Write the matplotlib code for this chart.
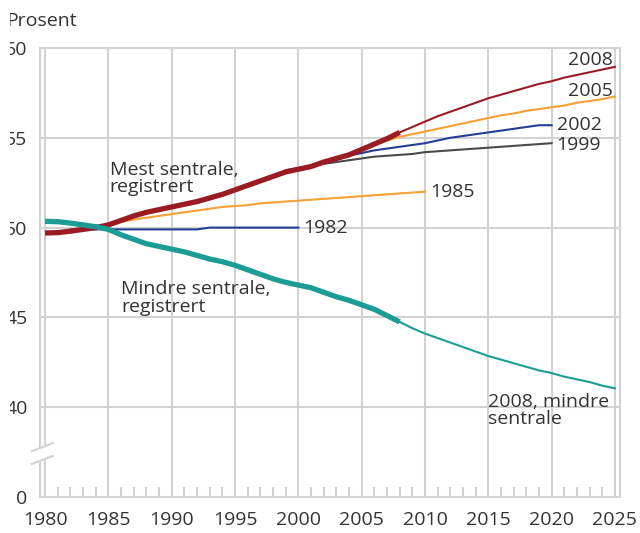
import numpy as np
import matplotlib.pyplot as plt
from matplotlib.patches import Polygon, Rectangle

plt.rcParams['font.family'] = ['Open Sans', 'DejaVu Sans']

# Registered shares (per cent)
years_reg = list(range(1980, 2009))
mest_reg = [49.7, 49.72, 49.8, 49.9, 50.0, 50.15, 50.4, 50.65, 50.85, 51.0,
            51.15, 51.3, 51.45, 51.65, 51.85, 52.1, 52.35, 52.6, 52.85, 53.1,
            53.25, 53.4, 53.65, 53.85, 54.05, 54.35, 54.65, 54.95, 55.3]
mindre_reg = [50.35, 50.33, 50.25, 50.15, 50.05, 49.9, 49.6, 49.35, 49.1, 48.95,
              48.8, 48.65, 48.45, 48.25, 48.1, 47.9, 47.65, 47.4, 47.15, 46.95,
              46.8, 46.65, 46.4, 46.15, 45.95, 45.7, 45.45, 45.1, 44.75]

# Projections (mest sentrale)
years_p1982 = list(range(1982, 2001))
p1982 = [49.9] * 11 + [50.0] * 8
years_p1985 = list(range(1985, 2011))
p1985 = [50.15, 50.3, 50.45, 50.55, 50.65, 50.75, 50.85, 50.95, 51.05, 51.15,
         51.2, 51.25, 51.35, 51.4, 51.45, 51.5, 51.55, 51.6, 51.65, 51.7,
         51.75, 51.8, 51.85, 51.9, 51.95, 52.0]
years_p1999 = list(range(1999, 2021))
p1999 = [53.2, 53.3, 53.45, 53.55, 53.65, 53.75, 53.85, 53.95, 54.0, 54.05,
         54.1, 54.2, 54.25, 54.3, 54.35, 54.4, 54.45, 54.5, 54.55, 54.6,
         54.65, 54.7]
years_p2002 = list(range(2002, 2021))
p2002 = [53.6, 53.8, 54.0, 54.15, 54.3, 54.4, 54.5, 54.6, 54.7, 54.85,
         55.0, 55.1, 55.2, 55.3, 55.4, 55.5, 55.6, 55.7, 55.7]
years_p2005 = list(range(2005, 2026))
p2005 = [54.3, 54.6, 54.85, 55.05, 55.2, 55.35, 55.5, 55.65, 55.8, 55.95,
         56.1, 56.25, 56.35, 56.5, 56.6, 56.7, 56.8, 56.95, 57.05, 57.15, 57.3]
years_p2008 = list(range(2008, 2026))
p2008 = [55.3, 55.6, 55.9, 56.2, 56.45, 56.7, 56.95, 57.2, 57.4, 57.6,
         57.8, 58.0, 58.15, 58.35, 58.5, 58.65, 58.8, 58.95]
p2008_mindre = [44.75, 44.4, 44.1, 43.85, 43.6, 43.35, 43.1, 42.85, 42.65, 42.45,
                42.25, 42.05, 41.9, 41.7, 41.55, 41.4, 41.2, 41.05]

# axis: the "0" tick sits where 35 would be (broken axis)
ytick_pos = [35, 40, 45, 50, 55, 60]
ytick_lab = ["0", "40", "45", "50", "55", "60"]
xticks = list(range(1980, 2026, 5))

RED = "#9b1b22"
ORANGE = "#f7a035"
BLUE = "#233f95"
GREY = "#4a4a4a"
TEAL = "#1b9c96"
GRID = "#d2d2d2"
TXT = "#333333"

fig = plt.figure(figsize=(6.4, 5.33), dpi=100)
ax = fig.add_axes([40 / 640, 36 / 533, 580 / 640, 449 / 533])
ax.set_xlim(1979.6, 2025.4)
ax.set_ylim(35, 60)

# grid
for x in xticks:
    ax.axvline(x, color=GRID, lw=1.5, zorder=1)
for y in [40, 45, 50, 55]:
    ax.axhline(y, color=GRID, lw=1.5, zorder=1)
for s in ax.spines.values():
    s.set_color(GRID)
    s.set_linewidth(1.5)

ax.set_xticks(xticks)
ax.set_xticks([y for y in range(1980, 2026) if y % 5], minor=True)
ax.tick_params(axis='x', which='major', length=0, pad=10, labelsize=14, labelcolor=TXT)
ax.tick_params(axis='x', which='minor', direction='in', length=7, width=1.5, color=GRID)
ax.set_yticks(ytick_pos, ytick_lab)
ax.tick_params(axis='y', length=0, pad=9, labelsize=14, labelcolor=TXT)

# projections
ax.plot(years_p1982, p1982, color=BLUE, lw=1.5, zorder=3)
ax.plot(years_p1985, p1985, color=ORANGE, lw=1.5, zorder=3)
ax.plot(years_p1999, p1999, color=GREY, lw=1.5, zorder=3)
ax.plot(years_p2002, p2002, color=BLUE, lw=1.5, zorder=3)
ax.plot(years_p2005, p2005, color=ORANGE, lw=1.5, zorder=3)
ax.plot(years_p2008, p2008, color=RED, lw=1.5, zorder=3)
ax.plot(years_p2008, p2008_mindre, color=TEAL, lw=1.5, zorder=3)

# registered
ax.plot(years_reg, mest_reg, color=RED, lw=3.8, zorder=4, solid_capstyle='butt')
ax.plot(years_reg, mindre_reg, color=TEAL, lw=3.8, zorder=4, solid_capstyle='butt')

# labels
kw = dict(fontsize=14, color=TXT, zorder=5)
ax.text(2024.8, p2008[-1] + 0.1, "2008", ha='right', va='baseline', **kw)
ax.text(2024.8, p2005[-1] + 0.05, "2005", ha='right', va='baseline', **kw)
ax.text(2020.4, p2002[-1], "2002", ha='left', va='center', **kw)
ax.text(2020.4, p1999[-1] - 0.1, "1999", ha='left', va='center', **kw)
ax.text(2010.4, p1985[-1], "1985", ha='left', va='center', **kw)
ax.text(2000.4, p1982[-1], "1982", ha='left', va='center', **kw)
ax.text(1985.1, 51.75, "Mest sentrale,\nregistrert", ha='left', va='bottom',
        linespacing=0.95, **kw)
ax.text(1986.0, 45.1, "Mindre sentrale,\nregistrert", ha='left', va='bottom',
        linespacing=0.95, **kw)
ax.text(2015.0, 38.85, "2008, mindre\nsentrale", ha='left', va='bottom',
        linespacing=0.95, **kw)

# axis break marks
brk = Polygon([(-0.014, 0.0735), (0.022, 0.0913), (0.022, 0.120), (-0.014, 0.102)],
              closed=True, facecolor='white', edgecolor='none',
              transform=ax.transAxes, clip_on=False, zorder=6)
ax.add_patch(brk)
ax.plot([-0.014, 0.022], [0.0735, 0.0913], color=GRID, lw=1.5,
        transform=ax.transAxes, clip_on=False, zorder=7)
ax.plot([-0.014, 0.022], [0.102, 0.120], color=GRID, lw=1.5,
        transform=ax.transAxes, clip_on=False, zorder=7)

fig.text(6 / 640, 1 - 26 / 533, "Prosent", fontsize=14, color=TXT, ha='left', va='baseline')

# the reference is cropped on the left edge
fig.patches.append(Rectangle((0, 0), 10 / 640, 1, transform=fig.transFigure,
                             facecolor='white', edgecolor='none', zorder=10))

fig.savefig("out.png", dpi=100)
